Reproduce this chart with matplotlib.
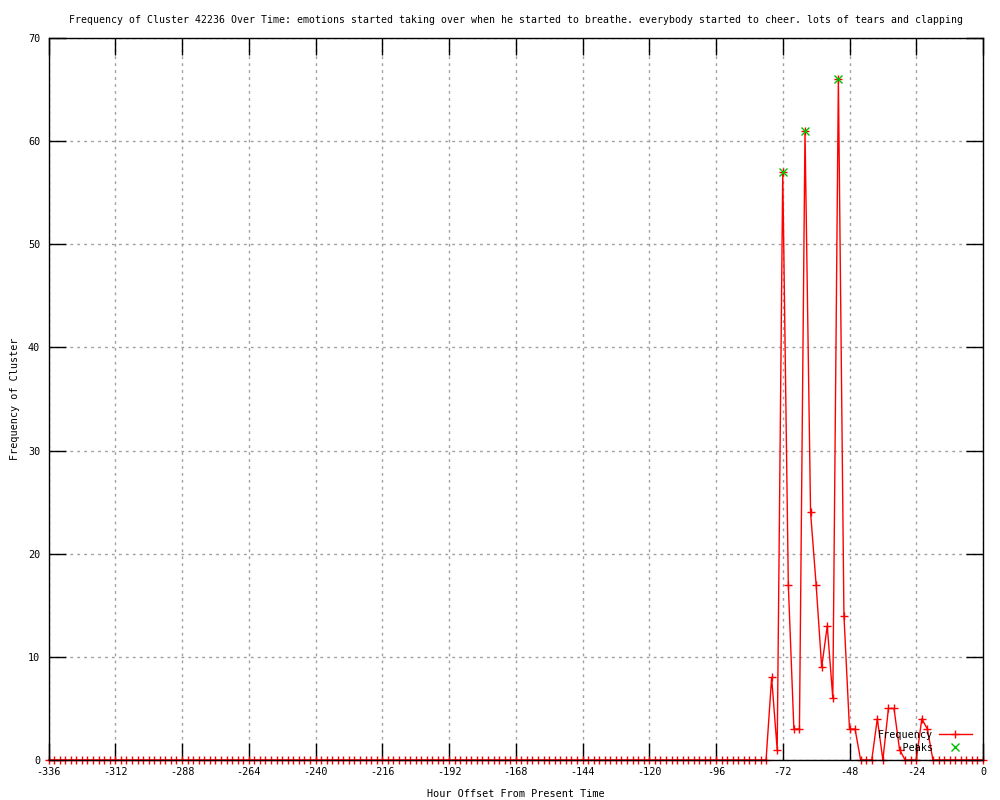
import numpy as np
import matplotlib
matplotlib.use("Agg")
import matplotlib.pyplot as plt

# hour offsets, one sample every 2 hours
hours = np.arange(-336, 1, 2)

# frequency per sample: quiet until -78, then the burst
counts = [0] * 130 + [
    8, 1, 57, 17, 3, 3, 61, 24, 17, 9, 13, 6, 66, 14, 3, 3,
    0, 0, 0, 4, 0, 5, 5, 1, 0, 0, 0, 4, 3, 0,
    0, 0, 0, 0, 0, 0, 0, 0, 0,
]

peak_hours = [-72, -64, -52]
peak_counts = [57, 61, 66]

xticks = list(range(-336, 1, 24))
yticks = list(range(0, 71, 10))

title = ("Frequency of Cluster 42236 Over Time: emotions started taking over when "
         "he started to breathe. everybody started to cheer. lots of tears and clapping")

plt.rcParams['font.family'] = ['DejaVu Sans Mono']
plt.rcParams['font.size'] = 7.3
plt.rcParams['axes.unicode_minus'] = False

fig = plt.figure(figsize=(10, 8), dpi=100)
ax = fig.add_axes([0.0485, 0.05, 0.9345, 0.9025])

ax.plot(hours, counts, color='red', linewidth=1, marker='+', markersize=6,
        markeredgewidth=1, label='Frequency', clip_on=False, zorder=2)
ax.plot(peak_hours, peak_counts, linestyle='none', marker='x', markersize=5.5,
        markeredgewidth=1, color='#00c000', label='    Peaks', clip_on=False, zorder=3)

ax.set_xlim(-336, 0)
ax.set_ylim(0, 70)
ax.set_xticks(xticks)
ax.set_yticks(yticks)
ax.tick_params(direction='in', length=12, width=1, top=True, right=True, color='black')
ax.tick_params(axis='x', pad=5)
ax.tick_params(axis='y', pad=6)
ax.grid(True, linestyle=(0, (2, 3)), color='#a0a0a0', linewidth=1)
ax.set_axisbelow(True)
for s in ax.spines.values():
    s.set_linewidth(1)
    s.set_color('black')
    s.set_zorder(4)

ax.set_title(title, fontsize=7.15, pad=11)
ax.set_xlabel('Hour Offset From Present Time', labelpad=9)
ax.set_ylabel('Frequency of Cluster', labelpad=6)

ax.legend(loc='lower right', bbox_to_anchor=(1.003, -0.01), frameon=False,
          markerfirst=False, handlelength=3.2, handletextpad=0.6,
          labelspacing=0.3, borderaxespad=1.0)

fig.savefig('out.png', dpi=100)
